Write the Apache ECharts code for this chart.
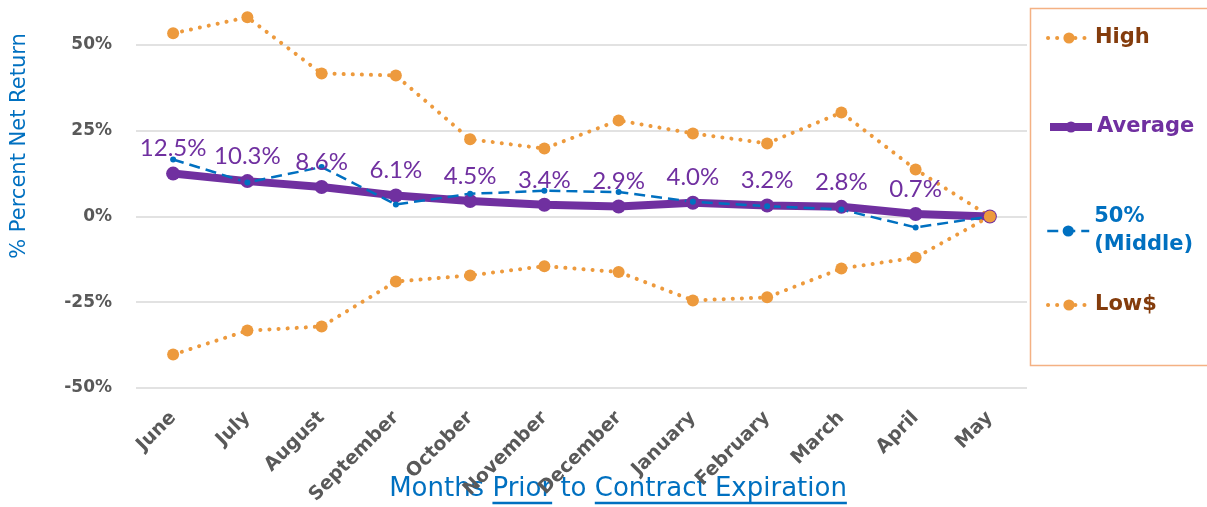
<!DOCTYPE html>
<html>
<head>
<meta charset="utf-8">
<script src="https://cdn.jsdelivr.net/npm/echarts@6/dist/echarts.min.js"></script>
<style>
  html, body { margin: 0; padding: 0; background: #fff; }
  #chart { width: 1207px; height: 507px; }
</style>
</head>
<body>
<div id="chart"></div>
<script>
// 数据
const months = ["June", "July", "August", "September", "October", "November",
  "December", "January", "February", "March", "April", "May"];
const highValues = [53.4, 58.1, 41.7, 41.1, 22.5, 19.8, 28.0, 24.2, 21.3, 30.3, 13.7, 0];
const averageValues = [12.5, 10.3, 8.6, 6.1, 4.5, 3.4, 2.9, 4.0, 3.2, 2.8, 0.7, 0];
const middleValues = [16.6, 9.9, 14.4, 3.5, 6.6, 7.5, 7.1, 4.3, 3.0, 2.0, -3.2, 0];
const lowValues = [-40.3, -33.3, -32.1, -19.0, -17.2, -14.5, -16.2, -24.5, -23.6, -15.2, -12.0, 0];
const yTicks = { min: -50, max: 50, interval: 25 };

const orange = "#ED9A3D";
const purple = "#7030A0";
const blue = "#0070C0";
const brown = "#843C0C";
const gray = "#595959";
const font = "'DejaVu Sans', sans-serif";

const dotted = { color: orange, width: 4, type: [0.1, 9], cap: "round" };
const dashed = { color: blue, width: 2.5, type: [11, 6] };
const thick = { color: purple, width: 8 };

// 单项图例
const legendItem = (name, top, color, lineStyle) => ({
  orient: "vertical",
  left: 1046,
  top: top,
  itemWidth: 42,
  itemHeight: 14,
  itemGap: 0,
  padding: 0,
  lineStyle: lineStyle,
  data: [{ name: name, textStyle: { color: color } }],
  textStyle: {
    fontFamily: font,
    fontSize: 21,
    fontWeight: "bold",
    lineHeight: 28,
  },
});

// x 轴标题下划线位置（按文字宽度计算）
const titleText = ["Months ", "Prior", " to ", "Contract Expiration"];
const titleFont = "26px 'DejaVu Sans', sans-serif";
const titleCenter = 618;
const ctx = document.createElement("canvas").getContext("2d");
ctx.font = titleFont;
const widths = titleText.map((t) => ctx.measureText(t).width);
const titleLeft = titleCenter - widths.reduce((a, b) => a + b, 0) / 2;
const priorX = titleLeft + widths[0];
const contractX = priorX + widths[1] + widths[2];

const options = {
  animation: false,
  backgroundColor: "#fff",
  grid: {
    left: 136,
    right: 180,
    top: 45,
    bottom: 119,
  },
  legend: [
    legendItem("High", 24, brown, dotted),
    legendItem("Average", 113, purple, thick),
    legendItem("50%\n(Middle)", 203, blue, dashed),
    legendItem("Low$", 291, brown, dotted),
  ],
  xAxis: {
    type: "category",
    data: months,
    boundaryGap: true,
    axisLine: { show: false },
    axisTick: { show: false },
    axisLabel: {
      rotate: 45,
      margin: 27,
      color: gray,
      fontFamily: font,
      fontWeight: "bold",
      fontSize: 19,
      interval: 0,
    },
  },
  yAxis: {
    type: "value",
    min: yTicks.min,
    max: yTicks.max,
    interval: yTicks.interval,
    axisLine: { show: false },
    axisTick: { show: false },
    splitLine: { lineStyle: { color: "#D9D9D9", width: 1.5 } },
    axisLabel: {
      formatter: "{value}%",
      margin: 24,
      color: gray,
      fontFamily: font,
      fontWeight: "bold",
      fontSize: 17,
    },
  },
  graphic: [
    {
      type: "text",
      x: 20,
      y: 146,
      rotation: Math.PI / 2,
      style: {
        text: "% Percent Net Return",
        fill: blue,
        fontFamily: font,
        fontSize: 21,
        align: "center",
        verticalAlign: "middle",
      },
    },
    {
      type: "text",
      x: titleCenter,
      y: 489,
      style: {
        text: titleText.join(""),
        fill: blue,
        font: titleFont,
        align: "center",
        verticalAlign: "middle",
      },
    },
    {
      type: "line",
      shape: { x1: priorX, y1: 503, x2: priorX + widths[1], y2: 503 },
      style: { stroke: blue, lineWidth: 2.5 },
    },
    {
      type: "line",
      shape: { x1: contractX, y1: 503, x2: contractX + widths[3], y2: 503 },
      style: { stroke: blue, lineWidth: 2.5 },
    },
    {
      type: "rect",
      shape: { x: 1030.5, y: 8.5, width: 190, height: 357 },
      style: { fill: "none", stroke: "#F4B183", lineWidth: 1.5 },
    },
  ],
  series: [
    {
      name: "High",
      type: "line",
      data: highValues,
      clip: false,
      symbol: "circle",
      symbolSize: 12,
      itemStyle: { color: orange },
      lineStyle: dotted,
    },
    {
      name: "Average",
      type: "line",
      data: averageValues,
      clip: false,
      symbol: "circle",
      symbolSize: 14,
      itemStyle: { color: purple },
      lineStyle: thick,
      label: {
        show: true,
        position: "top",
        distance: 6,
        color: purple,
        fontFamily: "'Lato', 'Noto Sans', sans-serif",
        fontSize: 24,
        formatter: (p) => (p.dataIndex === months.length - 1 ? "" : p.value.toFixed(1) + "%"),
      },
    },
    {
      name: "50%\n(Middle)",
      type: "line",
      data: middleValues,
      clip: false,
      symbol: "circle",
      symbolSize: 6,
      itemStyle: { color: blue },
      lineStyle: dashed,
    },
    {
      name: "Low$",
      type: "line",
      data: lowValues,
      clip: false,
      symbol: "circle",
      symbolSize: 12,
      itemStyle: { color: orange },
      lineStyle: dotted,
    },
  ],
};

const chart = echarts.init(document.getElementById("chart"), null, { renderer: "canvas" });
chart.setOption(options);
</script>
</body>
</html>
